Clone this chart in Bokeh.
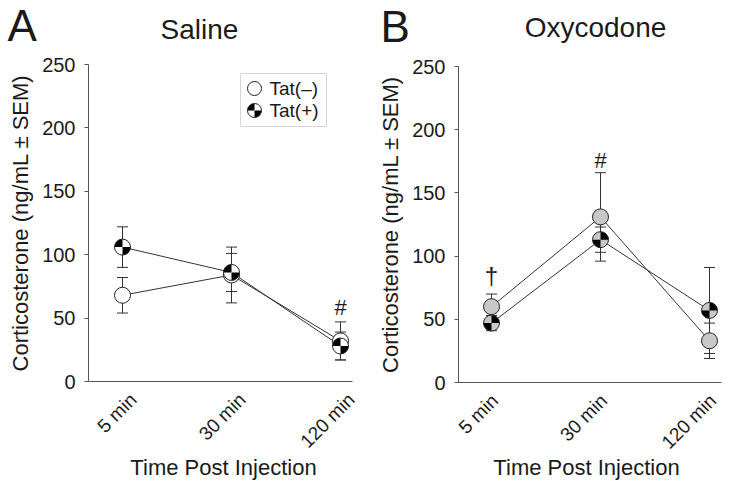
import math
from bokeh.plotting import figure
from bokeh.layouts import row
from bokeh.models import Range1d, FixedTicker, Label, BoxAnnotation, LinearAxis
from bokeh.core.properties import value
from bokeh.embed import file_html
from bokeh.resources import INLINE

# ---------------- data ----------------
categories = ["5 min", "30 min", "120 min"]
cat_pos = [0, 1, 2]

saline_neg = [68, 84, 32]
saline_neg_err = [14, 22, 15]
saline_pos = [106, 86, 28]
saline_pos_err = [16, 15, 11]

oxy_neg = [60, 131, 33]
oxy_neg_err = [10, 35, 14]
oxy_pos = [47, 113, 57]
oxy_pos_err = [6, 10, 34]

y_ticks = [0, 50, 100, 150, 200, 250]
Y_MIN, Y_MAX = 0, 250

# significance marks: (category index, y value, symbol, font size)
saline_marks = [(2, 58, "#", "22px")]
oxy_marks = [(1, 176, "#", "22px"), (0, 85, "\u2020", "24px")]

FONT = "Liberation Sans"
TXT = "#1a1a1a"
AX = "#555555"
LINE = "#333333"
H = 484


def make_panel(cfg, neg, neg_err, pos, pos_err, neg_fill, pos_fill, marks, legend, black_angles):
    ox, W = cfg["ox"], cfg["w"]
    c0, c2, z, t, axl, axr = cfg["c0"], cfg["c2"], cfg["y0"], cfg["y250"], cfg["axl"], cfg["axr"]
    # layout: page pixels -> ranges spanning the whole canvas
    ppx = (c2 - c0) / (cat_pos[-1] - cat_pos[0])
    ppy = (z - t) / (Y_MAX - Y_MIN)
    xs = cat_pos[0] - (c0 - ox) / ppx
    xe = xs + W / ppx
    ye = Y_MAX + t / ppy
    ys = ye - H / ppy

    def px(page_x):
        return xs + (page_x - ox) / ppx

    def py(page_y):
        return ye - page_y / ppy

    p = figure(width=W, height=H, x_range=Range1d(xs, xe), y_range=Range1d(ys, ye),
               output_backend="svg", toolbar_location=None, min_border=0)
    p.outline_line_color = None
    p.xgrid.visible = False
    p.ygrid.visible = False
    p.background_fill_color = "white"

    xb = (px(axl), px(axr))
    for ax in (p.xaxis[0], p.yaxis[0]):
        ax.axis_line_color = AX
        ax.major_tick_line_color = AX
        ax.minor_tick_line_color = None
        ax.major_label_text_font = FONT
        ax.major_label_text_font_size = "20px"
        ax.major_label_text_color = TXT
        ax.axis_label_text_font = FONT
        ax.axis_label_text_font_size = "22px"
        ax.axis_label_text_font_style = "normal"
        ax.axis_label_text_color = TXT

    ya = p.yaxis[0]
    ya.fixed_location = xb[0]
    ya.bounds = (Y_MIN, Y_MAX)
    ya.ticker = FixedTicker(ticks=y_ticks)
    ya.major_tick_out = 4
    ya.major_tick_in = 0
    ya.major_label_standoff = 9
    ya.axis_label = "Corticosterone (ng/mL \u00b1 SEM)"
    ya.axis_label_standoff = 6

    xa = p.xaxis[0]
    xa.fixed_location = Y_MIN
    xa.bounds = xb
    xa.ticker = FixedTicker(ticks=[])
    xa.major_tick_out = 0
    xa.major_tick_in = 0
    xa.major_label_text_font_size = "0px"

    shifted = [c + cfg["label_shift"] for c in cat_pos]
    lab_axis = LinearAxis(fixed_location=Y_MIN, ticker=FixedTicker(ticks=shifted),
                          major_label_overrides={s: c for s, c in zip(shifted, categories)},
                          major_label_orientation=math.pi / 4, major_label_standoff=9,
                          axis_line_color=None, major_tick_line_color=None, minor_tick_line_color=None,
                          major_label_text_font=FONT, major_label_text_font_size="19px",
                          major_label_text_color=TXT)
    p.add_layout(lab_axis, "below")

    # error bars
    for vals, errs in ((neg, neg_err), (pos, pos_err)):
        lo = [v - e for v, e in zip(vals, errs)]
        hi = [v + e for v, e in zip(vals, errs)]
        p.segment(x0=cat_pos, y0=lo, x1=cat_pos, y1=hi, line_color=LINE, line_width=1)
        p.scatter(x=cat_pos * 2, y=lo + hi, marker="dash", size=11, line_color=LINE, line_width=1)

    # connecting lines
    p.line(cat_pos, neg, line_color=LINE, line_width=1)
    p.line(cat_pos, pos, line_color=LINE, line_width=1)

    # Tat(-) markers
    p.scatter(cat_pos, neg, marker="circle", size=16, fill_color=neg_fill, line_color="#222222", line_width=1)

    def quartered(xv, yv, r):
        p.scatter(xv, yv, marker="circle", size=2 * r, fill_color=pos_fill, line_color=None)
        for a0, a1 in black_angles:
            p.wedge(x=xv, y=yv, radius=r, radius_units="screen", start_angle=a0, end_angle=a1,
                    fill_color="black", line_color=None)
        p.scatter(xv, yv, marker="circle", size=2 * r, fill_color=None, line_color="#222222", line_width=1)

    quartered(cat_pos, pos, 8)

    # significance marks
    for ci, yv, sym, fs in marks:
        p.text(x=[cat_pos[ci]], y=[yv], text=[sym], text_align="center", text_baseline="middle",
               text_font=value(FONT), text_font_size=fs, text_color=TXT)

    # letter, title, x-axis title (vertically centred on the given page positions)
    lx_, ly_ = cfg["letter_pos"]
    p.add_layout(Label(x=px(lx_), y=py(ly_), text=cfg["letter"], text_baseline="middle",
                       text_font=FONT, text_font_size="44px", text_color=TXT))
    tx_, ty_ = cfg["title_pos"]
    p.add_layout(Label(x=px(tx_), y=py(ty_), text=cfg["title"], text_align="center",
                       text_baseline="middle",
                       text_font=FONT, text_font_size="28px", text_color=TXT))
    ax_, ay_ = cfg["xlab_pos"]
    p.add_layout(Label(x=px(ax_), y=py(ay_), text="Time Post Injection", text_align="center",
                       text_baseline="middle", text_font=FONT, text_font_size="22px", text_color=TXT))

    if legend:
        p.add_layout(BoxAnnotation(left=px(240), right=px(326), top=py(73), bottom=py(126),
                                   fill_color=None, fill_alpha=0, line_color="#777777", line_width=1))
        p.scatter([px(254)], [py(88)], marker="circle", size=14, fill_color=neg_fill, line_color="#222222")
        quartered([px(254)], [py(110)], 7)
        for txt, yy in (("Tat(\u2013)", 88), ("Tat(+)", 110)):
            p.text(x=[px(269)], y=[py(yy)], text=[txt], text_baseline="middle",
                   text_font=value(FONT), text_font_size="19px", text_color=TXT)
    return p


cfgA = dict(ox=0, w=365, c0=122, c2=340, y0=381, y250=64, axl=88, axr=352, label_shift=0.10,
            letter="A", letter_pos=(7, 25), title="Saline", title_pos=(199, 29), xlab_pos=(223, 467))
cfgB = dict(ox=365, w=360, c0=491, c2=709, y0=382, y250=66, axl=458, axr=721, label_shift=0.03,
            letter="B", letter_pos=(380, 26), title="Oxycodone", title_pos=(595, 27), xlab_pos=(586, 467))

pA = make_panel(cfgA, saline_neg, saline_neg_err, saline_pos, saline_pos_err,
                "white", "white", saline_marks, True,
                [(math.pi / 2, math.pi), (3 * math.pi / 2, 2 * math.pi)])
pB = make_panel(cfgB, oxy_neg, oxy_neg_err, oxy_pos, oxy_pos_err,
                "#c8c8c8", "#c8c8c8", oxy_marks, False,
                [(0, math.pi / 2), (math.pi, 3 * math.pi / 2)])

layout = row(pA, pB)
open("out.html", "w").write(file_html(layout, INLINE))
